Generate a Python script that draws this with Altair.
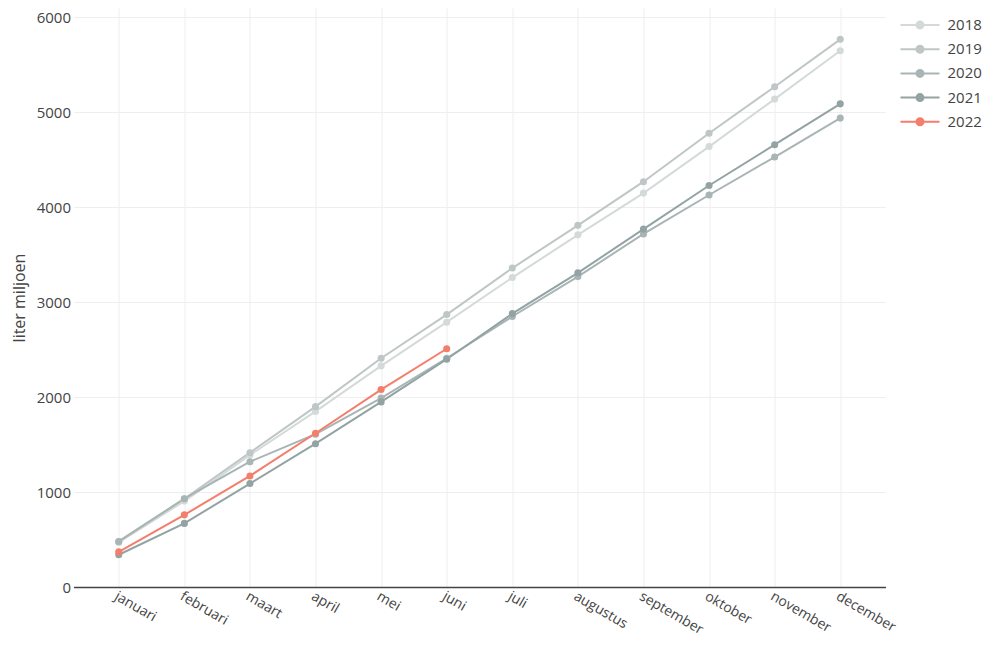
import altair as alt
import pandas as pd

months = ["januari", "februari", "maart", "april", "mei", "juni", "juli",
          "augustus", "september", "oktober", "november", "december"]
years = ["2018", "2019", "2020", "2021", "2022"]
v2018 = [470, 905, 1390, 1850, 2330, 2790, 3260, 3710, 4150, 4640, 5140, 5650]
v2019 = [480, 930, 1415, 1900, 2410, 2870, 3360, 3810, 4270, 4780, 5270, 5770]
v2020 = [480, 930, 1320, 1610, 1990, 2410, 2850, 3270, 3720, 4130, 4530, 4940]
v2021 = [340, 670, 1090, 1510, 1950, 2400, 2880, 3310, 3770, 4230, 4660, 5090]
v2022 = [370, 760, 1170, 1620, 2080, 2510]
colors = ["#d4dad9", "#bec7c6", "#a8b5b4", "#93a3a3", "#f47e6c"]

rows = []
for y, vals in zip(years, [v2018, v2019, v2020, v2021, v2022]):
    for m, v in zip(months, vals):
        rows.append({"maand": m, "jaar": y, "waarde": v})
df = pd.DataFrame(rows)

font = "Open Sans"
txt = "#444444"

x = alt.X("maand:N", sort=months, title=None,
          scale=alt.Scale(type="point", padding=0.69),
          axis=alt.Axis(labelAngle=30, labelAlign="left", labelBaseline="top",
                        labelFontSize=14, labelColor=txt, labelFont=font,
                        domainColor=txt, domainWidth=1.5, ticks=False,
                        grid=True, gridColor="#eeeeee", labelPadding=2))
y = alt.Y("waarde:Q", title="liter miljoen",
          scale=alt.Scale(domain=[0, 6100], nice=False, zero=True),
          axis=alt.Axis(values=[0, 1000, 2000, 3000, 4000, 5000, 6000], format="d",
                        labelFontSize=15, labelColor=txt, labelFont=font,
                        titleFontSize=16, titleColor=txt, titleFont=font,
                        titleFontWeight="normal", titlePadding=9,
                        domain=False, ticks=False,
                        grid=True, gridColor="#eeeeee", labelPadding=3))
color = alt.Color("jaar:N", scale=alt.Scale(domain=years, range=colors),
                  legend=alt.Legend(title=None, orient="none", legendX=826, legendY=8,
                                    labelFontSize=15, labelColor=txt, labelFont=font,
                                    symbolType="M-1,0L1,0M-0.18,0A0.18,0.18 0 1,1 0.18,0A0.18,0.18 0 1,1 -0.18,0",
                                    symbolSize=1521, symbolStrokeWidth=2,
                                    clipHeight=18, rowPadding=6.2, labelOffset=7))

chart = alt.Chart(df).mark_line(strokeWidth=2, point=alt.OverlayMarkDef(size=50, filled=True, opacity=1)).encode(
    x=x, y=y, color=color, order=alt.Order("jaar:N")
).properties(
    width=812, height=579,
    autosize=alt.AutoSizeParams(type="none"),
    padding={"left": 65.5, "top": 0, "right": 97, "bottom": 53},
).configure_view(stroke=None)

chart.save("out.html", embed_options={"renderer": "svg", "actions": False})
